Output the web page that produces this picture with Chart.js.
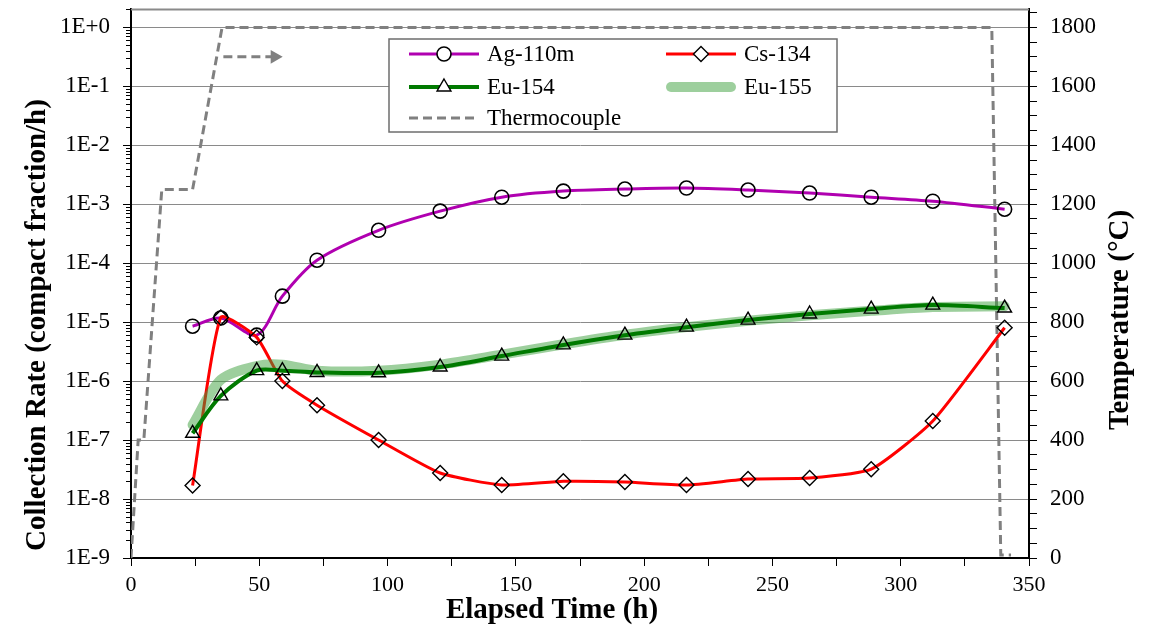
<!DOCTYPE html>
<html>
<head>
<meta charset="utf-8">
<script src="https://cdn.jsdelivr.net/npm/chart.js@4.4.1/dist/chart.umd.min.js"></script>
<style>
  html, body { margin: 0; padding: 0; background: #fff; }
  canvas { display: block; }
</style>
</head>
<body>
<canvas id="myChart" width="1158" height="626"></canvas>
<script>
// sampling times (h)
var hours  = [24, 35, 49, 59, 72.5, 96.5, 120.5, 144.5, 168.5, 192.5, 216.5, 240.5, 264.5, 288.5, 312.5, 340.5];
// collection rates (compact fraction/h)
var ag110m = [8.5e-6, 1.17e-5, 6.0e-6, 2.75e-5, 1.12e-4, 3.6e-4, 7.6e-4, 1.31e-3, 1.66e-3, 1.8e-3, 1.87e-3, 1.73e-3, 1.54e-3, 1.31e-3, 1.12e-3, 8.2e-4];
var cs134  = [1.7e-8, 1.2e-5, 5.5e-6, 1.0e-6, 3.9e-7, 1.0e-7, 2.76e-8, 1.73e-8, 2.0e-8, 1.94e-8, 1.73e-8, 2.18e-8, 2.27e-8, 3.2e-8, 2.1e-7, 8.0e-6];
var eu154  = [1.3e-7, 5.6e-7, 1.5e-6, 1.5e-6, 1.4e-6, 1.38e-6, 1.73e-6, 2.65e-6, 4.1e-6, 6.0e-6, 8.2e-6, 1.08e-5, 1.37e-5, 1.66e-5, 1.94e-5, 1.73e-5];
var eu155  = [1.8e-7, 1.05e-6, 1.8e-6, 1.9e-6, 1.5e-6, 1.5e-6, 1.9e-6, 2.8e-6, 4.2e-6, 6.1e-6, 8.2e-6, 1.05e-5, 1.3e-5, 1.55e-5, 1.8e-5, 1.85e-5];
// thermocouple trace (h, degC)
var tcHours = [0, 2.8, 5, 12, 24, 35.5, 335.5, 339, 343];
var tcTemp  = [0, 400, 400, 1250, 1250, 1800, 1800, 10, 10];
// arrow pointing to the right axis (h, degC)
var arrowHours = [36, 56];
var arrowTemp  = [1700, 1700];
// axis ticks
var logExps = [-9, -8, -7, -6, -5, -4, -3, -2, -1, 0];

var serif = '"Liberation Serif", "Times New Roman", serif';

function pts(xs, ys) {
    return xs.map(function (x, i) { return { x: x, y: ys[i] }; });
}

// keep the plot box where the reference has it
function noPad(s) {
    s.paddingTop = 0; s.paddingBottom = 0;
    s.paddingLeft = 0; s.paddingRight = 0;
}

/**
 * top frame, minor log ticks, axis titles and the boxed legend
 */
var extrasPlugin = {
    id: 'extras',
    afterDraw: function (chart) {
        var ctx = chart.ctx, a = chart.chartArea, y = chart.scales.y;
        ctx.save();

        ctx.strokeStyle = '#8a8a8a';
        ctx.lineWidth = 2;
        ctx.beginPath(); ctx.moveTo(a.left, a.top); ctx.lineTo(a.right, a.top); ctx.stroke();

        // minor ticks on the log axis
        ctx.strokeStyle = '#000';
        ctx.lineWidth = 1;
        logExps.forEach(function (e) {
            for (var m = 2; m < 10; m++) {
                var v = m * Math.pow(10, e);
                if (v > y.max) break;
                var py = Math.round(y.getPixelForValue(v)) + 0.5;
                ctx.beginPath(); ctx.moveTo(a.left - 5, py); ctx.lineTo(a.left, py); ctx.stroke();
            }
        });

        // axis titles
        ctx.fillStyle = '#000';
        ctx.font = 'bold 29px ' + serif;
        ctx.textAlign = 'center';
        ctx.textBaseline = 'alphabetic';
        ctx.fillText('Elapsed Time (h)', 552, 618);
        ctx.save();
        ctx.translate(45, 325); ctx.rotate(-Math.PI / 2);
        ctx.fillText('Collection Rate (compact fraction/h)', 0, 0);
        ctx.restore();
        ctx.save();
        ctx.translate(1128, 320); ctx.rotate(-Math.PI / 2);
        ctx.fillText('Temperature (\u00B0C)', 0, 0);
        ctx.restore();

        // legend box
        var bx = 389, by = 39, bw = 448, bh = 93;
        ctx.fillStyle = '#fff';
        ctx.fillRect(bx, by, bw, bh);
        ctx.strokeStyle = '#6e6e6e';
        ctx.lineWidth = 1.5;
        ctx.strokeRect(bx, by, bw, bh);

        var colX = [409, 666], rowY = [54, 87, 118];
        var items = chart.data.datasets.filter(function (ds) { return !ds.noLegend; });
        items.forEach(function (ds, i) {
            var x0 = colX[i % 2], cy = rowY[Math.floor(i / 2)];
            ctx.save();
            ctx.strokeStyle = ds.borderColor;
            ctx.lineWidth = ds.borderWidth;
            ctx.setLineDash(ds.borderDash || []);
            ctx.lineCap = ds.borderCapStyle || 'butt';
            var inset = ctx.lineCap === 'round' ? ds.borderWidth / 2 : 0;
            ctx.beginPath(); ctx.moveTo(x0 + inset, cy); ctx.lineTo(x0 + 70 - inset, cy); ctx.stroke();
            ctx.restore();
            if (ds.pointRadius > 0) {
                ctx.save();
                ctx.fillStyle = '#fff';
                ctx.strokeStyle = ds.pointBorderColor;
                ctx.lineWidth = ds.pointBorderWidth;
                Chart.helpers.drawPoint(ctx, {
                    pointStyle: ds.pointStyle, radius: ds.pointRadius,
                    borderWidth: ds.pointBorderWidth, rotation: 0
                }, x0 + 35, cy);
                ctx.restore();
            }
            ctx.fillStyle = '#000';
            ctx.font = '23px ' + serif;
            ctx.textAlign = 'left';
            ctx.textBaseline = 'middle';
            ctx.fillText(ds.label, x0 + 78, cy + 1);
        });

        ctx.restore();
    }
};

var ctx = document.getElementById('myChart');

var myChart = new Chart(ctx, {
    type: 'line',
    data: {
        datasets: [
            {
                label: 'Ag-110m', data: pts(hours, ag110m), yAxisID: 'y', order: 3,
                borderColor: '#b000b0', borderWidth: 3, tension: 0.3,
                pointStyle: 'circle', pointRadius: 7, pointBorderWidth: 1.6,
                pointBorderColor: '#000', pointBackgroundColor: 'rgba(0,0,0,0)'
            },
            {
                label: 'Cs-134', data: pts(hours, cs134), yAxisID: 'y', order: 2,
                borderColor: '#ff0000', borderWidth: 3, tension: 0.18,
                pointStyle: 'rectRot', pointRadius: 7.5, pointBorderWidth: 1.4,
                pointBorderColor: '#000', pointBackgroundColor: 'rgba(0,0,0,0)'
            },
            {
                label: 'Eu-154', data: pts(hours, eu154), yAxisID: 'y', order: 0,
                borderColor: '#007a00', borderWidth: 4, tension: 0.3,
                pointStyle: 'triangle', pointRadius: 8, pointBorderWidth: 1.4,
                pointBorderColor: '#000', pointBackgroundColor: 'rgba(0,0,0,0)'
            },
            {
                label: 'Eu-155', data: pts(hours, eu155), yAxisID: 'y', order: 1,
                borderColor: 'rgba(60,160,60,0.5)', borderWidth: 10, tension: 0.3,
                borderCapStyle: 'round', borderJoinStyle: 'round',
                pointRadius: 0
            },
            {
                label: 'Thermocouple', data: pts(tcHours, tcTemp), yAxisID: 'y1', order: 4,
                borderColor: '#808080', borderWidth: 3, borderDash: [9, 5], tension: 0,
                pointRadius: 0
            },
            {
                label: 'arrow', noLegend: true, data: pts(arrowHours, arrowTemp), yAxisID: 'y1', order: 4,
                borderColor: '#808080', borderWidth: 3, borderDash: [9, 5], tension: 0,
                pointStyle: 'triangle', rotation: 90, pointRadius: [0, 8], pointBorderWidth: 0,
                pointBackgroundColor: '#808080', pointBorderColor: '#808080'
            }
        ]
    },
    options: {
        responsive: false,
        animation: false,
        layout: { padding: { top: 9, left: 0, right: 0, bottom: 0 } },
        plugins: { legend: { display: false }, tooltip: { enabled: false } },
        scales: {
            x: {
                type: 'linear', min: 0, max: 350,
                afterFit: function (s) { s.height = 68; noPad(s); },
                border: { color: '#000', width: 2 },
                grid: { drawOnChartArea: false, tickLength: 8, tickColor: '#000', tickWidth: 1 },
                ticks: {
                    stepSize: 25, autoSkip: false, maxRotation: 0, padding: 6,
                    color: '#000', font: { family: serif, size: 22 },
                    callback: function (v) { return v % 50 === 0 ? v : ''; }
                }
            },
            y: {
                type: 'logarithmic', position: 'left', min: 1e-9, max: 2,
                afterFit: function (s) { s.width = 131; noPad(s); },
                afterBuildTicks: function (s) {
                    s.ticks = logExps.map(function (e) { return { value: Math.pow(10, e), major: true }; });
                },
                border: { color: '#000', width: 2 },
                grid: { color: '#8a8a8a', lineWidth: 1, tickLength: 8, tickColor: '#000' },
                ticks: {
                    autoSkip: false, padding: 13, color: '#000', font: { family: serif, size: 23 },
                    callback: function (v) {
                        var e = Math.round(Math.log10(v));
                        return '1E' + (e >= 0 ? '+' : '') + e;
                    }
                }
            },
            y1: {
                type: 'linear', position: 'right', min: 0, max: 1861,
                afterFit: function (s) { s.width = 129; noPad(s); },
                border: { color: '#000', width: 2 },
                grid: { drawOnChartArea: false, tickLength: 8, tickColor: '#000' },
                ticks: {
                    stepSize: 50, includeBounds: false, autoSkip: false, padding: 13,
                    color: '#000', font: { family: serif, size: 23 },
                    callback: function (v) { return v % 200 === 0 ? v : ''; }
                }
            }
        }
    },
    plugins: [extrasPlugin]
});
</script>
</body>
</html>
